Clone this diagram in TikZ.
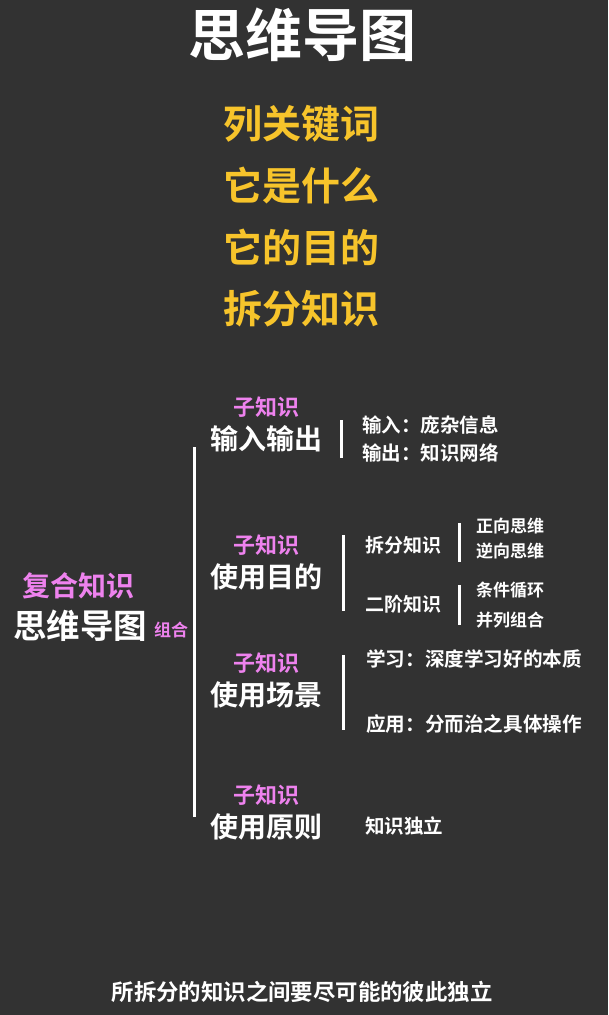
\documentclass[tikz,border=0pt]{standalone}
\usepackage{fontspec}
\setmainfont{Noto Sans CJK SC}[BoldFont={Noto Sans CJK SC Bold}]
\usepackage{xcolor}
\definecolor{bgdark}{HTML}{323232}
\definecolor{keyyellow}{HTML}{F7C42B}
\definecolor{subpink}{HTML}{EE82EE}

\tikzset{
	txt/.style={inner sep=0pt, anchor=center, font=\bfseries},
	bar/.style={white, line width=3pt}
}

\begin{document}
\begin{tikzpicture}[x=1pt,y=-1pt]
		% background
		\fill[bgdark] (0,0) rectangle (608,1015);
		\useasboundingbox (0,0) rectangle (608,1015);
		
		% title
		\node[txt, white, font=\fontsize{57}{60}\selectfont\bfseries] (title) at (302,35) {思维导图};
		
		% key steps
		\node[txt, keyyellow, font=\fontsize{39}{41}\selectfont\bfseries] (k1) at (301,124) {列关键词};
		\node[txt, keyyellow, font=\fontsize{39}{41}\selectfont\bfseries] (k2) at (301,186) {它是什么};
		\node[txt, keyyellow, font=\fontsize{39}{41}\selectfont\bfseries] (k3) at (301,247) {它的目的};
		\node[txt, keyyellow, font=\fontsize{39}{41}\selectfont\bfseries] (k4) at (301,309) {拆分知识};
		
		% root
		\node[txt, subpink, font=\fontsize{28}{30}\selectfont\bfseries] (rootsub) at (79,586) {复合知识};
		\node[txt, white, font=\fontsize{33.5}{35}\selectfont\bfseries] (root) at (80,626) {思维导图};
		\node[txt, subpink, font=\fontsize{17}{18}\selectfont\bfseries] (combine) at (171,630) {组合};
		
		% trunk
		\draw[bar] (194,447) -- (194,817);
		
		% children
		\foreach \y/\name/\lbl in {407/c1/输入输出, 545/c2/使用目的, 663/c3/使用场景, 795/c4/使用原则}{
			\node[txt, subpink, font=\fontsize{22}{24}\selectfont\bfseries] (\name sub) at (266,\y) {子知识};
			\node[txt, white, font=\fontsize{28}{30}\selectfont\bfseries] (\name) at (266,\y+32) {\lbl};
		}
		
		% child bars
		\draw[bar] (341,420) -- (341,458);
		\draw[bar] (343,535) -- (343,611);
		\draw[bar] (343,655) -- (343,730);
		
		% input / output
		\node[txt, white, anchor=west, font=\fontsize{19.5}{21}\selectfont\bfseries] (in) at (362,425) {输入：庞杂信息};
		\node[txt, white, anchor=west, font=\fontsize{19.5}{21}\selectfont\bfseries] (out) at (362,453) {输出：知识网络};
		
		% purpose
		\node[txt, white, anchor=west, font=\fontsize{19}{21}\selectfont\bfseries] (split) at (365,545) {拆分知识};
		\node[txt, white, anchor=west, font=\fontsize{19}{21}\selectfont\bfseries] (second) at (365,604) {二阶知识};
		\draw[bar] (459,523) -- (459,562);
		\draw[bar] (459,585) -- (459,625);
		\node[txt, white, anchor=west, font=\fontsize{17}{19}\selectfont\bfseries] (fwd) at (476,526) {正向思维};
		\node[txt, white, anchor=west, font=\fontsize{17}{19}\selectfont\bfseries] (bwd) at (476,551) {逆向思维};
		\node[txt, white, anchor=west, font=\fontsize{17}{19}\selectfont\bfseries] (loop) at (476,590) {条件循环};
		\node[txt, white, anchor=west, font=\fontsize{17}{19}\selectfont\bfseries] (para) at (476,620) {并列组合};
		
		% scenes
		\node[txt, white, anchor=west, font=\fontsize{19.6}{21}\selectfont\bfseries] (learn) at (366,659) {学习：深度学习好的本质};
		\node[txt, white, anchor=west, font=\fontsize{19.6}{21}\selectfont\bfseries] (apply) at (366,724) {应用：分而治之具体操作};
		
		% principle
		\node[txt, white, anchor=west, font=\fontsize{19.5}{21}\selectfont\bfseries] (indep) at (365,826) {知识独立};
		
		% footer
		\node[txt, white, font=\fontsize{22.4}{24}\selectfont\bfseries] (foot) at (302,992) {所拆分的知识之间要尽可能的彼此独立};
	\end{tikzpicture}
\end{document}
